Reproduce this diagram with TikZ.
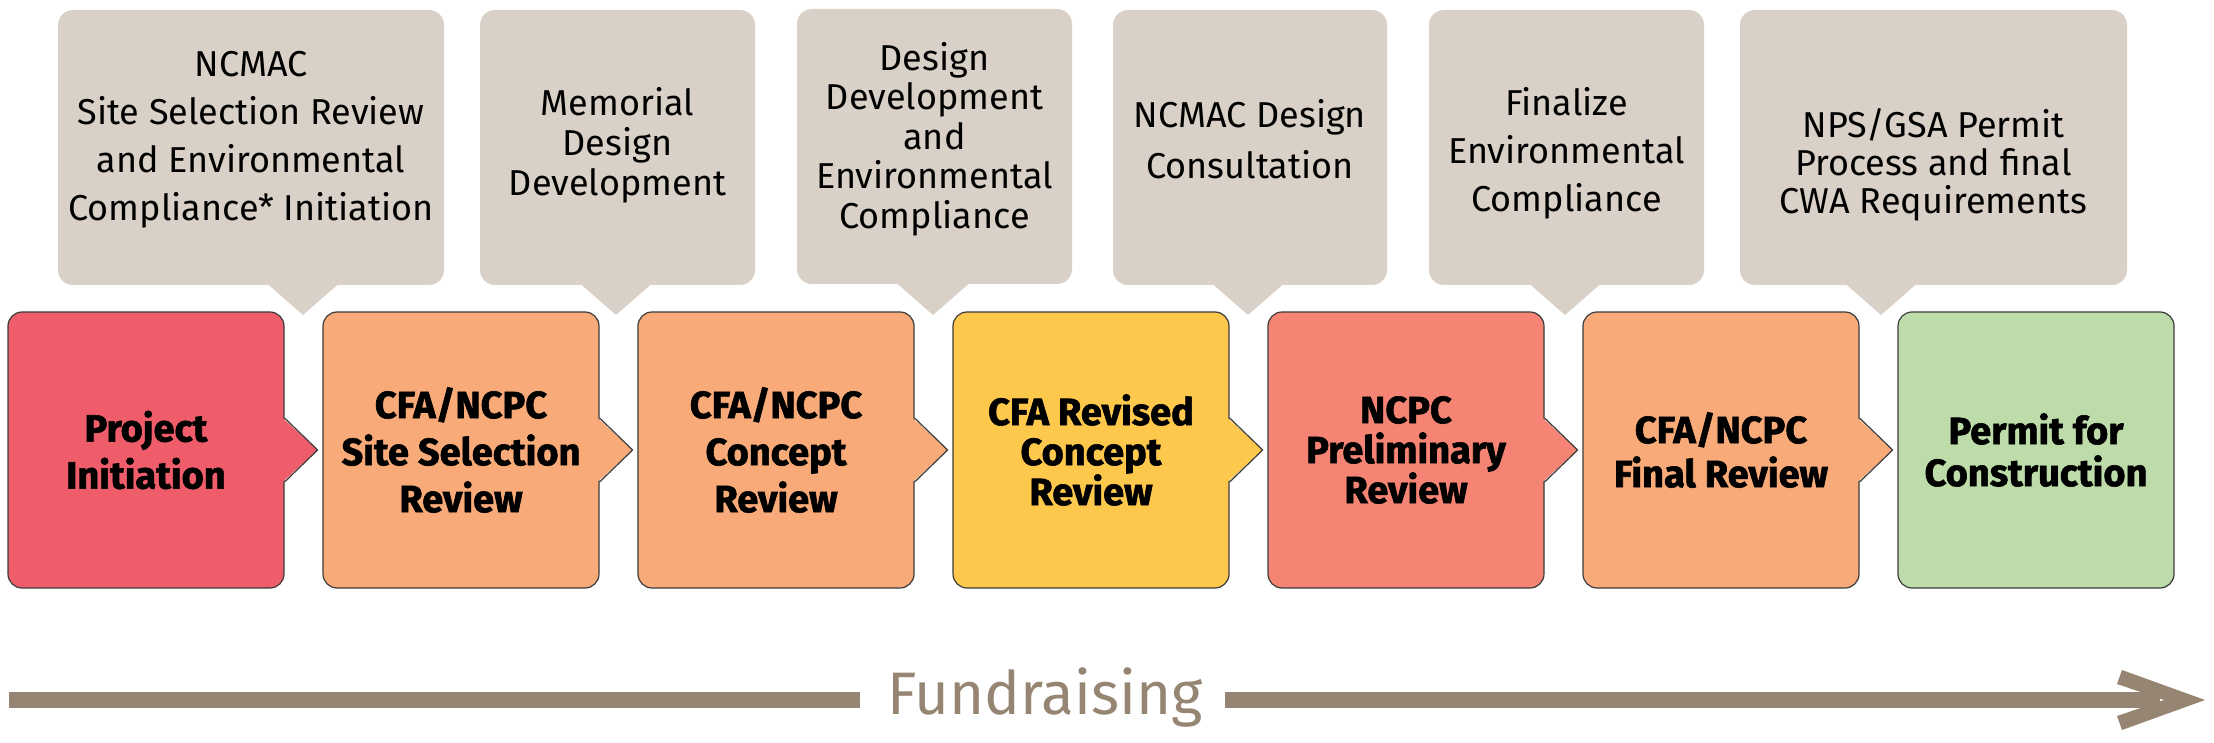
\documentclass[tikz,border=0pt]{standalone}
\usepackage{fontspec}
\setmainfont{Fira Sans}[BoldFeatures={FakeBold=1.6}]
\usetikzlibrary{calc}
\definecolor{cRed}{HTML}{F05D6A}
\definecolor{cOrange}{HTML}{F8AA78}
\definecolor{cYellow}{HTML}{FEC84D}
\definecolor{cSalmon}{HTML}{F58474}
\definecolor{cGreen}{HTML}{BDDCA9}
\definecolor{cCallout}{HTML}{D9D1C7}
\definecolor{cArrow}{HTML}{968573}
\definecolor{cEdge}{HTML}{3C3C3C}
\begin{document}
\begin{tikzpicture}[x=1pt,y=-1pt,
  stagebox/.style={draw=cEdge, line width=1.2pt, rounded corners=14pt,
    minimum width=276pt, minimum height=276pt, inner sep=0pt, align=center,
    font=\bfseries\fontsize{38}{47}\selectfont},
  calloutbox/.style={fill=cCallout, rounded corners=15pt, minimum height=275pt,
    inner sep=0pt},
  callouttext/.style={anchor=north, inner sep=0pt, align=center},
  tipedge/.style={draw=cEdge, line width=1.2pt, line join=miter},
]
\useasboundingbox (0,0) rectangle (2214,743);

% ---------- callouts ----------
\node[calloutbox, minimum width=386pt] (c1) at (251,147.5) {};
\node[calloutbox, minimum width=275pt] (c2) at (617.5,147.5) {};
\node[calloutbox, minimum width=275pt] (c3) at (934.5,146.5) {};
\node[calloutbox, minimum width=274pt] (c4) at (1250,147.5) {};
\node[calloutbox, minimum width=275pt] (c5) at (1566.5,147.5) {};
\node[calloutbox, minimum width=387pt] (c6) at (1933.5,147.5) {};

\foreach \n/\tx in {c1/303, c2/616, c3/933, c4/1248, c5/1565, c6/1881}{
  \fill[cCallout] (\tx-40,280) -- (\tx,315) -- (\tx+40,280) -- cycle;
}

\node[callouttext, font=\fontsize{36}{48}\selectfont] (ct1) at ($(c1.center |- 0,46)$)
  {\rule{0pt}{30pt}NCMAC\\Site Selection Review\\and Environmental\\Compliance* Initiation};
\node[callouttext, font=\fontsize{36}{40}\selectfont] (ct2) at ($(c2.center |- 0,85)$)
  {\rule{0pt}{30pt}Memorial\\Design\\Development};
\node[callouttext, font=\fontsize{36}{39.5}\selectfont] (ct3) at ($(c3.center |- 0,40)$)
  {\rule{0pt}{30pt}Design\\Development\\and\\Environmental\\Compliance};
\node[callouttext, font=\fontsize{36}{51}\selectfont] (ct4) at ($(c4.center |- 0,97)$)
  {\rule{0pt}{30pt}NCMAC Design\\Consultation};
\node[callouttext, font=\fontsize{36}{48}\selectfont] (ct5) at ($(c5.center |- 0,85)$)
  {\rule{0pt}{30pt}Finalize\\Environmental\\Compliance};
\node[callouttext, font=\fontsize{36}{38}\selectfont] (ct6) at ($(c6.center |- 0,107)$)
  {\rule{0pt}{30pt}NPS/GSA Permit\\Process and final\\CWA Requirements};

% ---------- stages ----------
\node[stagebox, fill=cRed] (s1) at (146,450) {Project\\Initiation};
\node[stagebox, fill=cOrange] (s2) at (461,450) {CFA/NCPC\\Site Selection\\Review};
\node[stagebox, fill=cOrange] (s3) at (776,450) {CFA/NCPC\\Concept\\Review};
\node[stagebox, fill=cYellow, font=\bfseries\fontsize{38}{40}\selectfont] (s4) at (1091,450) {CFA Revised\\Concept\\Review};
\node[stagebox, fill=cSalmon, font=\bfseries\fontsize{38}{40}\selectfont] (s5) at (1406,450) {NCPC\\Preliminary\\Review};
\node[stagebox, fill=cOrange, font=\bfseries\fontsize{38}{44}\selectfont] (s6) at (1721,450) {CFA/NCPC\\Final Review};
\node[stagebox, fill=cGreen, font=\bfseries\fontsize{38}{42}\selectfont] (s7) at (2036,450) {Permit for\\Construction};

\foreach \s/\c in {s1/cRed, s2/cOrange, s3/cOrange, s4/cYellow, s5/cSalmon, s6/cOrange}{
  \fill[\c] ($(\s.east)+(-2,-32)$) -- ($(\s.east)+(33,0)$) -- ($(\s.east)+(-2,32)$) -- cycle;
  \draw[tipedge] ($(\s.east)+(0,-32)$) -- ($(\s.east)+(33,0)$) -- ($(\s.east)+(0,32)$);
}

% ---------- fundraising arrow ----------
\node[anchor=base, inner sep=0pt, text=cArrow, font=\fontsize{60}{72}\selectfont] (fund) at (1045,714) {Fundraising};
\coordinate (fa) at (9,700);
\coordinate (fb) at (860,700);
\coordinate (fc) at (1225,700);
\coordinate (fd) at (2160,700);
\coordinate (ftip) at (2205,700);
\draw[cArrow, line width=16pt] (fa) -- (fb);
\draw[cArrow, line width=16pt] (fc) -- (fd);
\fill[cArrow] (ftip) -- (2122,670) -- (2117,684) -- (2164,700) -- (2117,716) -- (2122,730) -- cycle;
\end{tikzpicture}
\end{document}
